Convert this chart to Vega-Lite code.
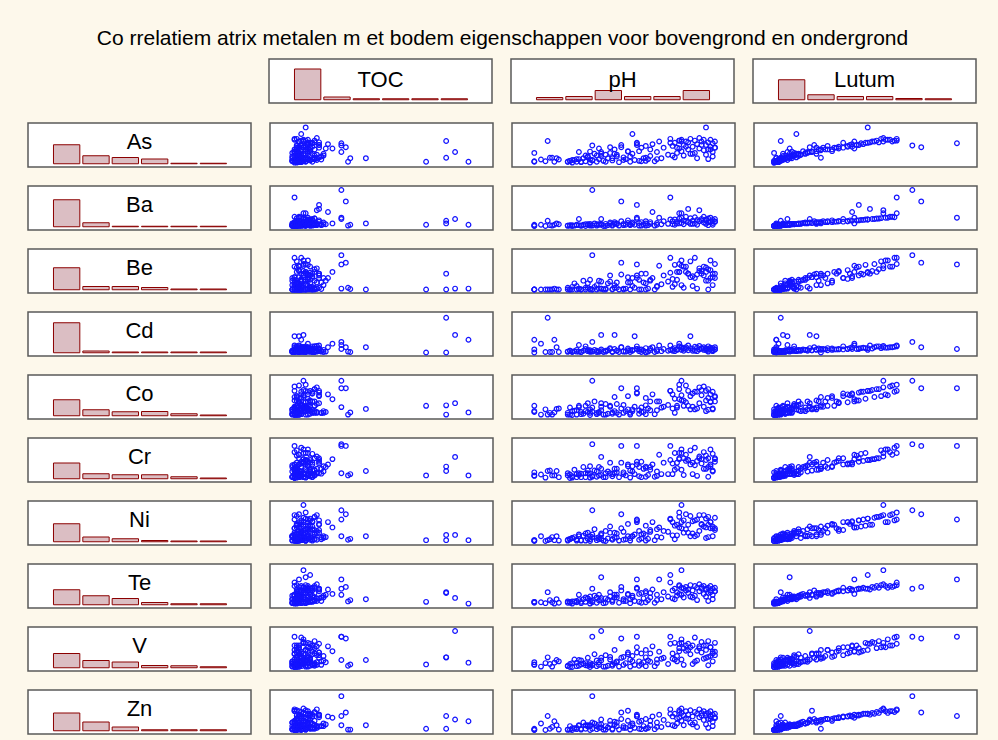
{
  "$schema": "https://vega.github.io/schema/vega-lite/v6.json",
  "background": "#FDF8EB",
  "padding": {"left": 27, "top": 28, "right": 21, "bottom": 4},
  "title": {"text": "Co rrelatiem atrix metalen m et bodem eigenschappen voor bovengrond en ondergrond", "font": "Liberation Sans", "fontSize": 21, "fontWeight": "normal", "color": "#000000", "anchor": "middle", "offset": 9},
  "config": {
    "view": {"stroke": "#5A5A5A", "strokeWidth": 1.5, "fill": "#FFFFFF"},
    "concat": {"spacing": 17},
    "facet": {"spacing": 17},
    "text": {"font": "Liberation Sans"}
  },
  "datasets": {
    "hist": [
      {"v":"As","lo":0,"hi":1,"n":76},{"v":"As","lo":1,"hi":2,"n":32},{"v":"As","lo":2,"hi":3,"n":25},{"v":"As","lo":3,"hi":4,"n":19},{"v":"As","lo":4,"hi":5,"n":2},{"v":"As","lo":5,"hi":6,"n":2},
      {"v":"Ba","lo":0,"hi":1,"n":108},{"v":"Ba","lo":1,"hi":2,"n":16},{"v":"Ba","lo":2,"hi":3,"n":2},{"v":"Ba","lo":3,"hi":4,"n":2},{"v":"Ba","lo":4,"hi":5,"n":2},{"v":"Ba","lo":5,"hi":6,"n":2},
      {"v":"Be","lo":0,"hi":1,"n":88},{"v":"Be","lo":1,"hi":2,"n":13},{"v":"Be","lo":2,"hi":3,"n":13},{"v":"Be","lo":3,"hi":4,"n":9},{"v":"Be","lo":4,"hi":5,"n":3},{"v":"Be","lo":5,"hi":6,"n":3},
      {"v":"Cd","lo":0,"hi":1,"n":120},{"v":"Cd","lo":1,"hi":2,"n":7},{"v":"Cd","lo":2,"hi":3,"n":3},{"v":"Cd","lo":3,"hi":4,"n":3},{"v":"Cd","lo":4,"hi":5,"n":3},{"v":"Cd","lo":5,"hi":6,"n":3},
      {"v":"Co","lo":0,"hi":1,"n":64},{"v":"Co","lo":1,"hi":2,"n":24},{"v":"Co","lo":2,"hi":3,"n":16},{"v":"Co","lo":3,"hi":4,"n":17},{"v":"Co","lo":4,"hi":5,"n":8},{"v":"Co","lo":5,"hi":6,"n":3},
      {"v":"Cr","lo":0,"hi":1,"n":63},{"v":"Cr","lo":1,"hi":2,"n":20},{"v":"Cr","lo":2,"hi":3,"n":16},{"v":"Cr","lo":3,"hi":4,"n":16},{"v":"Cr","lo":4,"hi":5,"n":8},{"v":"Cr","lo":5,"hi":6,"n":3},
      {"v":"Ni","lo":0,"hi":1,"n":72},{"v":"Ni","lo":1,"hi":2,"n":19},{"v":"Ni","lo":2,"hi":3,"n":12},{"v":"Ni","lo":3,"hi":4,"n":5},{"v":"Ni","lo":4,"hi":5,"n":3},{"v":"Ni","lo":5,"hi":6,"n":3},
      {"v":"Te","lo":0,"hi":1,"n":60},{"v":"Te","lo":1,"hi":2,"n":36},{"v":"Te","lo":2,"hi":3,"n":25},{"v":"Te","lo":3,"hi":4,"n":9},{"v":"Te","lo":4,"hi":5,"n":4},{"v":"Te","lo":5,"hi":6,"n":4},
      {"v":"V","lo":0,"hi":1,"n":57},{"v":"V","lo":1,"hi":2,"n":29},{"v":"V","lo":2,"hi":3,"n":23},{"v":"V","lo":3,"hi":4,"n":9},{"v":"V","lo":4,"hi":5,"n":8},{"v":"V","lo":5,"hi":6,"n":4},
      {"v":"Zn","lo":0,"hi":1,"n":71},{"v":"Zn","lo":1,"hi":2,"n":35},{"v":"Zn","lo":2,"hi":3,"n":15},{"v":"Zn","lo":3,"hi":4,"n":4},{"v":"Zn","lo":4,"hi":5,"n":4},{"v":"Zn","lo":5,"hi":6,"n":4},
      {"v":"TOC","lo":0,"hi":1,"n":123},{"v":"TOC","lo":1,"hi":2,"n":11},{"v":"TOC","lo":2,"hi":3,"n":4},{"v":"TOC","lo":3,"hi":4,"n":4},{"v":"TOC","lo":4,"hi":5,"n":4},{"v":"TOC","lo":5,"hi":6,"n":4},
      {"v":"pH","lo":0,"hi":1,"n":9},{"v":"pH","lo":1,"hi":2,"n":13},{"v":"pH","lo":2,"hi":3,"n":37},{"v":"pH","lo":3,"hi":4,"n":13},{"v":"pH","lo":4,"hi":5,"n":13},{"v":"pH","lo":5,"hi":6,"n":37},
      {"v":"Lutum","lo":0,"hi":1,"n":80},{"v":"Lutum","lo":1,"hi":2,"n":20},{"v":"Lutum","lo":2,"hi":3,"n":13},{"v":"Lutum","lo":3,"hi":4,"n":13},{"v":"Lutum","lo":4,"hi":5,"n":5},{"v":"Lutum","lo":5,"hi":6,"n":4}
    ],
    "samples": [
      {"TOC":14,"pH":10,"Lutum":10,"As":13,"Ba":10,"Be":8,"Cd":37,"Co":18,"Cr":14,"Ni":11,"Te":12,"V":20,"Zn":9},
      {"TOC":12,"pH":10,"Lutum":9,"As":32,"Ba":9,"Be":8,"Cd":15,"Co":16,"Cr":22,"Ni":9,"Te":14,"V":14,"Zn":10},
      {"TOC":17,"pH":13,"Lutum":11,"As":17,"Ba":12,"Be":8,"Cd":28,"Co":10,"Cr":17,"Ni":20,"Te":13,"V":10,"Zn":24},
      {"TOC":11,"pH":15,"Lutum":9,"As":13,"Ba":9,"Be":8,"Cd":9,"Co":22,"Cr":10,"Ni":9,"Te":11,"V":18,"Zn":9},
      {"TOC":20,"pH":17,"Lutum":12,"As":21,"Ba":11,"Be":8,"Cd":9,"Co":14,"Cr":26,"Ni":13,"Te":18,"V":16,"Zn":12},
      {"TOC":13,"pH":18,"Lutum":10,"As":21,"Ba":10,"Be":8,"Cd":9,"Co":10,"Cr":15,"Ni":18,"Te":13,"V":10,"Zn":16},
      {"TOC":16,"pH":21,"Lutum":11,"As":17,"Ba":13,"Be":8,"Cd":9,"Co":24,"Cr":11,"Ni":10,"Te":12,"V":22,"Zn":10},
      {"TOC":70,"pH":10,"Lutum":10,"As":12,"Ba":12,"Be":8,"Cd":8,"Co":30,"Cr":15,"Ni":11,"Te":14,"V":15,"Zn":12},
      {"TOC":79,"pH":16,"Lutum":12,"As":59,"Ba":21,"Be":8,"Cd":87,"Co":10,"Cr":25,"Ni":11,"Te":36,"V":31,"Zn":41},
      {"TOC":79,"pH":60,"Lutum":30,"As":21,"Ba":15,"Be":44,"Cd":8,"Co":31,"Cr":35,"Ni":23,"Te":34,"V":31,"Zn":12},
      {"TOC":83,"pH":40,"Lutum":25,"As":34,"Ba":25,"Be":10,"Cd":48,"Co":36,"Cr":57,"Ni":23,"Te":23,"V":91,"Zn":33},
      {"TOC":89,"pH":19,"Lutum":10,"As":12,"Ba":12,"Be":10,"Cd":37,"Co":15,"Cr":15,"Ni":11,"Te":10,"V":19,"Zn":29},
      {"TOC":28,"pH":75,"Lutum":45,"As":42,"Ba":15,"Be":48,"Cd":28,"Co":45,"Cr":52,"Ni":40,"Te":32,"V":45,"Zn":37},
      {"TOC":32,"pH":36,"Lutum":71,"As":49,"Ba":91,"Be":86,"Cd":32,"Co":87,"Cr":86,"Ni":79,"Te":44,"V":78,"Zn":86},
      {"TOC":34,"pH":49,"Lutum":75,"As":45,"Ba":65,"Be":69,"Cd":20,"Co":70,"Cr":82,"Ni":70,"Te":48,"V":74,"Zn":49},
      {"TOC":32,"pH":56,"Lutum":91,"As":54,"Ba":28,"Be":65,"Cd":16,"Co":70,"Cr":82,"Ni":58,"Te":65,"V":78,"Zn":41},
      {"TOC":32,"pH":30,"Lutum":15,"As":34,"Ba":25,"Be":10,"Cd":25,"Co":27,"Cr":20,"Ni":20,"Te":30,"V":25,"Zn":20},
      {"TOC":35,"pH":25,"Lutum":10,"As":12,"Ba":10,"Be":12,"Cd":10,"Co":10,"Cr":15,"Ni":12,"Te":15,"V":12,"Zn":10},
      {"TOC":36,"pH":45,"Lutum":12,"As":20,"Ba":12,"Be":9,"Cd":9,"Co":15,"Cr":18,"Ni":14,"Te":18,"V":15,"Zn":10},
      {"TOC":43,"pH":20,"Lutum":10,"As":20,"Ba":15,"Be":8,"Cd":20,"Co":23,"Cr":25,"Ni":20,"Te":20,"V":25,"Zn":20},
      {"TOC":12,"pH":25,"Lutum":10,"As":12,"Ba":10,"Be":8,"Cd":10,"Co":14,"Cr":20,"Ni":10,"Te":12,"V":11,"Zn":10},
      {"TOC":15,"pH":26,"Lutum":11,"As":14,"Ba":11,"Be":8,"Cd":12,"Co":26,"Cr":17,"Ni":13,"Te":14,"V":16,"Zn":18},
      {"TOC":11,"pH":27,"Lutum":9,"As":10,"Ba":9,"Be":8,"Cd":9,"Co":9,"Cr":10,"Ni":16,"Te":10,"V":9,"Zn":9},
      {"TOC":18,"pH":28,"Lutum":12,"As":16,"Ba":10,"Be":22,"Cd":11,"Co":19,"Cr":28,"Ni":18,"Te":15,"V":26,"Zn":13},
      {"TOC":13,"pH":29,"Lutum":10,"As":12,"Ba":12,"Be":8,"Cd":14,"Co":10,"Cr":11,"Ni":10,"Te":13,"V":11,"Zn":11},
      {"TOC":20,"pH":30,"Lutum":13,"As":18,"Ba":11,"Be":9,"Cd":10,"Co":30,"Cr":16,"Ni":24,"Te":18,"V":12,"Zn":19},
      {"TOC":14,"pH":31,"Lutum":11,"As":11,"Ba":10,"Be":8,"Cd":9,"Co":11,"Cr":19,"Ni":11,"Te":11,"V":24,"Zn":10},
      {"TOC":10,"pH":32,"Lutum":14,"As":20,"Ba":12,"Be":28,"Cd":12,"Co":12,"Cr":34,"Ni":21,"Te":20,"V":17,"Zn":26},
      {"TOC":16,"pH":33,"Lutum":10,"As":13,"Ba":9,"Be":8,"Cd":16,"Co":18,"Cr":11,"Ni":10,"Te":14,"V":13,"Zn":12},
      {"TOC":22,"pH":34,"Lutum":15,"As":22,"Ba":13,"Be":12,"Cd":11,"Co":36,"Cr":20,"Ni":28,"Te":22,"V":30,"Zn":17},
      {"TOC":12,"pH":35,"Lutum":9,"As":10,"Ba":10,"Be":8,"Cd":10,"Co":9,"Cr":10,"Ni":9,"Te":10,"V":9,"Zn":9},
      {"TOC":17,"pH":35,"Lutum":17,"As":35,"Ba":14,"Be":30,"Cd":13,"Co":22,"Cr":36,"Ni":20,"Te":26,"V":18,"Zn":20},
      {"TOC":11,"pH":36,"Lutum":12,"As":16,"Ba":11,"Be":8,"Cd":10,"Co":26,"Cr":14,"Ni":24,"Te":16,"V":13,"Zn":26},
      {"TOC":19,"pH":37,"Lutum":20,"As":30,"Ba":15,"Be":14,"Cd":14,"Co":40,"Cr":26,"Ni":36,"Te":28,"V":38,"Zn":24},
      {"TOC":14,"pH":38,"Lutum":11,"As":12,"Ba":10,"Be":8,"Cd":12,"Co":11,"Cr":12,"Ni":11,"Te":12,"V":11,"Zn":11},
      {"TOC":25,"pH":39,"Lutum":16,"As":42,"Ba":13,"Be":28,"Cd":10,"Co":16,"Cr":34,"Ni":18,"Te":30,"V":20,"Zn":22},
      {"TOC":13,"pH":40,"Lutum":13,"As":25,"Ba":12,"Be":10,"Cd":11,"Co":28,"Cr":16,"Ni":26,"Te":18,"V":30,"Zn":15},
      {"TOC":16,"pH":40,"Lutum":16,"As":30,"Ba":14,"Be":26,"Cd":15,"Co":20,"Cr":30,"Ni":14,"Te":70,"V":24,"Zn":22},
      {"TOC":10,"pH":41,"Lutum":10,"As":14,"Ba":9,"Be":8,"Cd":9,"Co":10,"Cr":11,"Ni":10,"Te":11,"V":10,"Zn":10},
      {"TOC":21,"pH":42,"Lutum":18,"As":28,"Ba":14,"Be":10,"Cd":12,"Co":34,"Cr":20,"Ni":32,"Te":22,"V":36,"Zn":18},
      {"TOC":12,"pH":43,"Lutum":14,"As":20,"Ba":11,"Be":22,"Cd":13,"Co":12,"Cr":24,"Ni":15,"Te":19,"V":12,"Zn":15},
      {"TOC":15,"pH":44,"Lutum":25,"As":45,"Ba":17,"Be":40,"Cd":18,"Co":28,"Cr":44,"Ni":42,"Te":36,"V":26,"Zn":30},
      {"TOC":18,"pH":45,"Lutum":12,"As":15,"Ba":10,"Be":8,"Cd":10,"Co":12,"Cr":13,"Ni":12,"Te":14,"V":12,"Zn":12},
      {"TOC":11,"pH":46,"Lutum":30,"As":40,"Ba":18,"Be":18,"Cd":16,"Co":50,"Cr":30,"Ni":28,"Te":30,"V":48,"Zn":28},
      {"TOC":23,"pH":47,"Lutum":16,"As":24,"Ba":13,"Be":24,"Cd":12,"Co":14,"Cr":30,"Ni":17,"Te":24,"V":22,"Zn":18},
      {"TOC":13,"pH":48,"Lutum":11,"As":11,"Ba":10,"Be":8,"Cd":9,"Co":10,"Cr":11,"Ni":10,"Te":12,"V":10,"Zn":10},
      {"TOC":17,"pH":49,"Lutum":27,"As":50,"Ba":20,"Be":42,"Cd":20,"Co":24,"Cr":44,"Ni":38,"Te":40,"V":30,"Zn":34},
      {"TOC":14,"pH":50,"Lutum":19,"As":22,"Ba":14,"Be":8,"Cd":11,"Co":32,"Cr":18,"Ni":30,"Te":20,"V":32,"Zn":18},
      {"TOC":20,"pH":51,"Lutum":13,"As":18,"Ba":12,"Be":10,"Cd":10,"Co":18,"Cr":15,"Ni":13,"Te":16,"V":18,"Zn":14},
      {"TOC":12,"pH":52,"Lutum":35,"As":36,"Ba":22,"Be":24,"Cd":17,"Co":52,"Cr":36,"Ni":48,"Te":32,"V":42,"Zn":30},
      {"TOC":16,"pH":53,"Lutum":10,"As":12,"Ba":11,"Be":8,"Cd":9,"Co":10,"Cr":10,"Ni":10,"Te":11,"V":10,"Zn":10},
      {"TOC":24,"pH":54,"Lutum":23,"As":30,"Ba":17,"Be":34,"Cd":14,"Co":18,"Cr":36,"Ni":20,"Te":28,"V":34,"Zn":24},
      {"TOC":11,"pH":55,"Lutum":15,"As":16,"Ba":12,"Be":12,"Cd":45,"Co":28,"Cr":18,"Ni":24,"Te":16,"V":14,"Zn":14},
      {"TOC":19,"pH":56,"Lutum":40,"As":55,"Ba":25,"Be":34,"Cd":22,"Co":58,"Cr":40,"Ni":52,"Te":46,"V":54,"Zn":40},
      {"TOC":13,"pH":57,"Lutum":12,"As":14,"Ba":10,"Be":8,"Cd":11,"Co":12,"Cr":13,"Ni":12,"Te":14,"V":12,"Zn":12},
      {"TOC":15,"pH":58,"Lutum":28,"As":44,"Ba":18,"Be":44,"Cd":15,"Co":26,"Cr":46,"Ni":24,"Te":34,"V":40,"Zn":30},
      {"TOC":21,"pH":59,"Lutum":17,"As":20,"Ba":13,"Be":24,"Cd":12,"Co":16,"Cr":30,"Ni":26,"Te":22,"V":20,"Zn":18},
      {"TOC":12,"pH":60,"Lutum":33,"As":48,"Ba":20,"Be":22,"Cd":18,"Co":48,"Cr":32,"Ni":44,"Te":38,"V":48,"Zn":34},
      {"TOC":17,"pH":61,"Lutum":14,"As":18,"Ba":11,"Be":10,"Cd":10,"Co":24,"Cr":16,"Ni":14,"Te":18,"V":24,"Zn":14},
      {"TOC":14,"pH":62,"Lutum":20,"As":25,"Ba":14,"Be":30,"Cd":13,"Co":20,"Cr":34,"Ni":30,"Te":24,"V":21,"Zn":20},
      {"TOC":26,"pH":63,"Lutum":44,"As":52,"Ba":41,"Be":34,"Cd":20,"Co":56,"Cr":40,"Ni":52,"Te":42,"V":56,"Zn":40},
      {"TOC":10,"pH":64,"Lutum":11,"As":13,"Ba":10,"Be":8,"Cd":9,"Co":11,"Cr":12,"Ni":11,"Te":12,"V":11,"Zn":11},
      {"TOC":18,"pH":65,"Lutum":24,"As":34,"Ba":16,"Be":14,"Cd":14,"Co":40,"Cr":24,"Ni":36,"Te":30,"V":26,"Zn":26},
      {"TOC":13,"pH":66,"Lutum":45,"As":58,"Ba":28,"Be":62,"Cd":24,"Co":40,"Cr":62,"Ni":40,"Te":65,"V":44,"Zn":44},
      {"TOC":16,"pH":67,"Lutum":16,"As":20,"Ba":13,"Be":20,"Cd":11,"Co":26,"Cr":18,"Ni":17,"Te":20,"V":28,"Zn":16},
      {"TOC":12,"pH":33,"Lutum":18,"As":26,"Ba":13,"Be":12,"Cd":22,"Co":30,"Cr":20,"Ni":26,"Te":24,"V":18,"Zn":20},
      {"TOC":22,"pH":56,"Lutum":47,"As":50,"Ba":57,"Be":40,"Cd":16,"Co":60,"Cr":46,"Ni":56,"Te":44,"V":42,"Zn":44},
      {"TOC":15,"pH":46,"Lutum":13,"As":30,"Ba":15,"Be":12,"Cd":48,"Co":18,"Cr":20,"Ni":17,"Te":24,"V":18,"Zn":22},
      {"TOC":19,"pH":39,"Lutum":13,"As":18,"Ba":12,"Be":10,"Cd":10,"Co":14,"Cr":15,"Ni":13,"Te":17,"V":14,"Zn":14},
      {"TOC":11,"pH":52,"Lutum":26,"As":35,"Ba":16,"Be":36,"Cd":13,"Co":22,"Cr":40,"Ni":20,"Te":30,"V":38,"Zn":53},
      {"TOC":14,"pH":54,"Lutum":19,"As":75,"Ba":14,"Be":16,"Cd":12,"Co":22,"Cr":24,"Ni":20,"Te":24,"V":22,"Zn":20},
      {"TOC":14,"pH":72,"Lutum":42,"As":48,"Ba":20,"Be":32,"Cd":16,"Co":56,"Cr":42,"Ni":52,"Te":40,"V":40,"Zn":40},
      {"TOC":17,"pH":73,"Lutum":50,"As":55,"Ba":24,"Be":64,"Cd":18,"Co":46,"Cr":66,"Ni":44,"Te":44,"V":64,"Zn":46},
      {"TOC":12,"pH":74,"Lutum":36,"As":44,"Ba":19,"Be":48,"Cd":15,"Co":30,"Cr":44,"Ni":46,"Te":36,"V":34,"Zn":36},
      {"TOC":20,"pH":75,"Lutum":55,"As":60,"Ba":26,"Be":48,"Cd":22,"Co":68,"Cr":54,"Ni":64,"Te":50,"V":52,"Zn":50},
      {"TOC":15,"pH":76,"Lutum":60,"As":62,"Ba":28,"Be":74,"Cd":19,"Co":54,"Cr":74,"Ni":52,"Te":46,"V":72,"Zn":48},
      {"TOC":11,"pH":76,"Lutum":28,"As":36,"Ba":16,"Be":18,"Cd":14,"Co":42,"Cr":28,"Ni":38,"Te":30,"V":26,"Zn":30},
      {"TOC":18,"pH":77,"Lutum":47,"As":50,"Ba":22,"Be":60,"Cd":17,"Co":42,"Cr":54,"Ni":56,"Te":44,"V":52,"Zn":42},
      {"TOC":13,"pH":78,"Lutum":62,"As":58,"Ba":30,"Be":60,"Cd":20,"Co":76,"Cr":62,"Ni":70,"Te":48,"V":58,"Zn":52},
      {"TOC":22,"pH":79,"Lutum":52,"As":56,"Ba":48,"Be":44,"Cd":24,"Co":64,"Cr":50,"Ni":46,"Te":42,"V":62,"Zn":44},
      {"TOC":16,"pH":79,"Lutum":33,"As":40,"Ba":18,"Be":44,"Cd":13,"Co":30,"Cr":50,"Ni":28,"Te":34,"V":48,"Zn":34},
      {"TOC":12,"pH":80,"Lutum":57,"As":64,"Ba":27,"Be":72,"Cd":18,"Co":52,"Cr":72,"Ni":66,"Te":52,"V":54,"Zn":54},
      {"TOC":19,"pH":81,"Lutum":44,"As":46,"Ba":21,"Be":38,"Cd":16,"Co":58,"Cr":44,"Ni":54,"Te":40,"V":58,"Zn":40},
      {"TOC":14,"pH":82,"Lutum":63,"As":60,"Ba":29,"Be":80,"Cd":21,"Co":62,"Cr":78,"Ni":56,"Te":50,"V":76,"Zn":50},
      {"TOC":10,"pH":82,"Lutum":24,"As":32,"Ba":15,"Be":34,"Cd":12,"Co":22,"Cr":38,"Ni":20,"Te":28,"V":21,"Zn":26},
      {"TOC":17,"pH":83,"Lutum":49,"As":52,"Ba":23,"Be":42,"Cd":19,"Co":62,"Cr":48,"Ni":58,"Te":46,"V":46,"Zn":46},
      {"TOC":21,"pH":84,"Lutum":58,"As":66,"Ba":45,"Be":56,"Cd":23,"Co":72,"Cr":58,"Ni":68,"Te":54,"V":56,"Zn":56},
      {"TOC":13,"pH":84,"Lutum":38,"As":42,"Ba":20,"Be":50,"Cd":15,"Co":36,"Cr":54,"Ni":32,"Te":38,"V":52,"Zn":38},
      {"TOC":15,"pH":85,"Lutum":53,"As":58,"Ba":25,"Be":50,"Cd":17,"Co":66,"Cr":52,"Ni":46,"Te":48,"V":66,"Zn":48},
      {"TOC":11,"pH":86,"Lutum":61,"As":62,"Ba":30,"Be":60,"Cd":20,"Co":74,"Cr":68,"Ni":68,"Te":50,"V":58,"Zn":52},
      {"TOC":18,"pH":86,"Lutum":30,"As":38,"Ba":17,"Be":40,"Cd":14,"Co":28,"Cr":30,"Ni":42,"Te":32,"V":28,"Zn":32},
      {"TOC":16,"pH":87,"Lutum":51,"As":90,"Ba":24,"Be":48,"Cd":18,"Co":64,"Cr":50,"Ni":60,"Te":44,"V":48,"Zn":46},
      {"TOC":12,"pH":87,"Lutum":46,"As":50,"Ba":22,"Be":58,"Cd":16,"Co":42,"Cr":60,"Ni":40,"Te":42,"V":58,"Zn":42},
      {"TOC":20,"pH":88,"Lutum":56,"As":56,"Ba":26,"Be":54,"Cd":22,"Co":68,"Cr":54,"Ni":64,"Te":46,"V":68,"Zn":48},
      {"TOC":14,"pH":88,"Lutum":35,"As":40,"Ba":18,"Be":28,"Cd":14,"Co":48,"Cr":34,"Ni":46,"Te":34,"V":32,"Zn":34},
      {"TOC":17,"pH":89,"Lutum":59,"As":62,"Ba":28,"Be":74,"Cd":19,"Co":56,"Cr":74,"Ni":52,"Te":50,"V":54,"Zn":52},
      {"TOC":13,"pH":89,"Lutum":42,"As":46,"Ba":20,"Be":52,"Cd":16,"Co":38,"Cr":40,"Ni":52,"Te":40,"V":54,"Zn":40},
      {"TOC":19,"pH":90,"Lutum":48,"As":54,"Ba":23,"Be":44,"Cd":18,"Co":62,"Cr":64,"Ni":42,"Te":44,"V":44,"Zn":44},
      {"TOC":11,"pH":90,"Lutum":26,"As":34,"Ba":16,"Be":36,"Cd":13,"Co":24,"Cr":26,"Ni":38,"Te":30,"V":40,"Zn":28},
      {"TOC":15,"pH":91,"Lutum":54,"As":58,"Ba":25,"Be":66,"Cd":20,"Co":50,"Cr":52,"Ni":62,"Te":46,"V":64,"Zn":46},
      {"TOC":22,"pH":91,"Lutum":40,"As":44,"Ba":19,"Be":34,"Cd":15,"Co":52,"Cr":54,"Ni":34,"Te":38,"V":36,"Zn":38},
      {"TOC":14,"pH":70,"Lutum":20,"As":28,"Ba":14,"Be":26,"Cd":12,"Co":32,"Cr":18,"Ni":30,"Te":26,"V":16,"Zn":22},
      {"TOC":18,"pH":71,"Lutum":51,"As":55,"Ba":24,"Be":46,"Cd":14,"Co":64,"Cr":50,"Ni":60,"Te":75,"V":62,"Zn":46},
      {"TOC":12,"pH":73,"Lutum":15,"As":22,"Ba":12,"Be":20,"Cd":11,"Co":14,"Cr":28,"Ni":13,"Te":20,"V":26,"Zn":18},
      {"TOC":16,"pH":75,"Lutum":64,"As":60,"Ba":38,"Be":66,"Cd":22,"Co":78,"Cr":66,"Ni":74,"Te":52,"V":62,"Zn":54},
      {"TOC":20,"pH":77,"Lutum":18,"As":26,"Ba":13,"Be":12,"Cd":12,"Co":30,"Cr":16,"Ni":28,"Te":24,"V":14,"Zn":20},
      {"TOC":13,"pH":80,"Lutum":28,"As":30,"Ba":14,"Be":36,"Cd":45,"Co":22,"Cr":40,"Ni":20,"Te":26,"V":38,"Zn":26},
      {"TOC":17,"pH":83,"Lutum":14,"As":20,"Ba":12,"Be":10,"Cd":11,"Co":24,"Cr":14,"Ni":23,"Te":18,"V":24,"Zn":16},
      {"TOC":11,"pH":71,"Lutum":64,"As":64,"Ba":74,"Be":80,"Cd":24,"Co":64,"Cr":82,"Ni":58,"Te":58,"V":78,"Zn":56},
      {"TOC":19,"pH":88,"Lutum":12,"As":18,"Ba":11,"Be":8,"Cd":10,"Co":21,"Cr":12,"Ni":18,"Te":16,"V":13,"Zn":14},
      {"TOC":15,"pH":76,"Lutum":58,"As":58,"Ba":38,"Be":62,"Cd":20,"Co":87,"Cr":66,"Ni":91,"Te":86,"V":64,"Zn":58},
      {"TOC":11,"pH":26,"Lutum":9,"As":14,"Ba":10,"Be":8,"Cd":12,"Co":10,"Cr":9,"Ni":14,"Te":12,"V":9,"Zn":10},
      {"TOC":15,"pH":29,"Lutum":12,"As":18,"Ba":11,"Be":16,"Cd":10,"Co":20,"Cr":18,"Ni":13,"Te":16,"V":19,"Zn":14},
      {"TOC":19,"pH":31,"Lutum":10,"As":12,"Ba":10,"Be":8,"Cd":9,"Co":16,"Cr":11,"Ni":10,"Te":14,"V":15,"Zn":12},
      {"TOC":13,"pH":34,"Lutum":16,"As":24,"Ba":12,"Be":22,"Cd":14,"Co":16,"Cr":26,"Ni":14,"Te":22,"V":12,"Zn":20},
      {"TOC":10,"pH":36,"Lutum":11,"As":15,"Ba":10,"Be":8,"Cd":11,"Co":17,"Cr":12,"Ni":18,"Te":13,"V":16,"Zn":12},
      {"TOC":24,"pH":38,"Lutum":14,"As":26,"Ba":13,"Be":18,"Cd":9,"Co":14,"Cr":24,"Ni":16,"Te":24,"V":24,"Zn":18},
      {"TOC":12,"pH":42,"Lutum":10,"As":12,"Ba":9,"Be":8,"Cd":10,"Co":10,"Cr":11,"Ni":9,"Te":12,"V":10,"Zn":10},
      {"TOC":17,"pH":44,"Lutum":18,"As":32,"Ba":14,"Be":26,"Cd":16,"Co":30,"Cr":20,"Ni":28,"Te":26,"V":32,"Zn":22},
      {"TOC":14,"pH":47,"Lutum":21,"As":28,"Ba":15,"Be":12,"Cd":12,"Co":34,"Cr":22,"Ni":26,"Te":30,"V":20,"Zn":26},
      {"TOC":21,"pH":50,"Lutum":12,"As":16,"Ba":11,"Be":10,"Cd":10,"Co":14,"Cr":22,"Ni":12,"Te":16,"V":14,"Zn":14},
      {"TOC":11,"pH":53,"Lutum":17,"As":24,"Ba":13,"Be":24,"Cd":13,"Co":14,"Cr":26,"Ni":16,"Te":20,"V":26,"Zn":18},
      {"TOC":16,"pH":57,"Lutum":22,"As":36,"Ba":16,"Be":30,"Cd":15,"Co":20,"Cr":34,"Ni":32,"Te":32,"V":22,"Zn":28},
      {"TOC":13,"pH":60,"Lutum":10,"As":14,"Ba":10,"Be":8,"Cd":9,"Co":11,"Cr":12,"Ni":10,"Te":13,"V":11,"Zn":12},
      {"TOC":20,"pH":62,"Lutum":29,"As":40,"Ba":18,"Be":28,"Cd":17,"Co":40,"Cr":28,"Ni":34,"Te":34,"V":40,"Zn":30},
      {"TOC":12,"pH":65,"Lutum":13,"As":18,"Ba":12,"Be":16,"Cd":11,"Co":20,"Cr":14,"Ni":19,"Te":18,"V":18,"Zn":16},
      {"TOC":18,"pH":68,"Lutum":31,"As":44,"Ba":20,"Be":40,"Cd":16,"Co":28,"Cr":44,"Ni":32,"Te":36,"V":30,"Zn":32},
      {"TOC":14,"pH":72,"Lutum":17,"As":26,"Ba":13,"Be":14,"Cd":12,"Co":24,"Cr":18,"Ni":22,"Te":22,"V":28,"Zn":20},
      {"TOC":11,"pH":74,"Lutum":23,"As":32,"Ba":15,"Be":30,"Cd":14,"Co":26,"Cr":32,"Ni":22,"Te":28,"V":22,"Zn":24},
      {"TOC":16,"pH":78,"Lutum":38,"As":46,"Ba":20,"Be":48,"Cd":16,"Co":38,"Cr":48,"Ni":36,"Te":40,"V":46,"Zn":36},
      {"TOC":13,"pH":81,"Lutum":19,"As":30,"Ba":14,"Be":16,"Cd":12,"Co":28,"Cr":18,"Ni":26,"Te":24,"V":16,"Zn":22},
      {"TOC":22,"pH":85,"Lutum":43,"As":50,"Ba":22,"Be":44,"Cd":18,"Co":54,"Cr":42,"Ni":48,"Te":44,"V":42,"Zn":42},
      {"TOC":12,"pH":87,"Lutum":21,"As":28,"Ba":14,"Be":28,"Cd":13,"Co":18,"Cr":30,"Ni":16,"Te":26,"V":30,"Zn":22},
      {"TOC":17,"pH":89,"Lutum":32,"As":40,"Ba":18,"Be":34,"Cd":15,"Co":40,"Cr":36,"Ni":38,"Te":36,"V":34,"Zn":34},
      {"TOC":10,"pH":90,"Lutum":16,"As":24,"Ba":12,"Be":18,"Cd":11,"Co":22,"Cr":24,"Ni":20,"Te":20,"V":22,"Zn":18},
      {"TOC":14,"pH":91,"Lutum":37,"As":44,"Ba":19,"Be":44,"Cd":15,"Co":40,"Cr":46,"Ni":38,"Te":38,"V":44,"Zn":36},
      {"TOC":18,"pH":27,"Lutum":13,"As":16,"Ba":11,"Be":14,"Cd":10,"Co":18,"Cr":13,"Ni":16,"Te":15,"V":18,"Zn":13},
      {"TOC":15,"pH":58,"Lutum":11,"As":13,"Ba":10,"Be":8,"Cd":9,"Co":16,"Cr":11,"Ni":15,"Te":12,"V":16,"Zn":11},
      {"TOC":23,"pH":35,"Lutum":12,"As":17,"Ba":11,"Be":9,"Cd":10,"Co":14,"Cr":19,"Ni":13,"Te":16,"V":14,"Zn":18}
    ]
  },
  "vconcat": [
    {
      "hconcat": [
        {
          "width": 223, "height": 44,
          "view": {"stroke": null, "fill": null},
          "data": {"values": [{"t": ""}]},
          "mark": {"type": "text"},
          "encoding": {"text": {"field": "t"}}
        },
        {
          "data": {"name": "hist"},
          "transform": [{"filter": {"field": "v", "oneOf": ["TOC", "pH", "Lutum"]}}],
          "facet": {"column": {"field": "v", "sort": ["TOC", "pH", "Lutum"], "header": null}},
          "spacing": 17,
          "spec": {
            "width": 223, "height": 44,
            "layer": [
              {
                "mark": {"type": "bar", "fill": "#DBBEC3", "stroke": "#8B0000", "strokeWidth": 1, "binSpacing": 3},
                "encoding": {
                  "x": {"field": "lo", "bin": "binned", "type": "quantitative", "scale": {"domain": [-0.8, 6.8], "nice": false, "zero": false}, "axis": null},
                  "x2": {"field": "hi"},
                  "y": {"field": "n", "type": "quantitative", "scale": {"domain": [-13, 163], "nice": false, "zero": false}, "axis": null},
                  "y2": {"datum": 0}
                }
              },
              {
                "transform": [{"filter": "datum.lo == 0"}],
                "mark": {"type": "text", "fontSize": 22, "font": "Liberation Sans", "color": "#000000", "align": "center", "baseline": "alphabetic"},
                "encoding": {
                  "x": {"datum": 3, "type": "quantitative"},
                  "y": {"datum": 50, "type": "quantitative"},
                  "text": {"field": "v"}
                }
              }
            ]
          }
        }
      ]
    },
    {
      "hconcat": [
        {
          "data": {"name": "hist"},
          "transform": [{"filter": {"field": "v", "oneOf": ["As", "Ba", "Be", "Cd", "Co", "Cr", "Ni", "Te", "V", "Zn"]}}],
          "facet": {"row": {"field": "v", "sort": ["As", "Ba", "Be", "Cd", "Co", "Cr", "Ni", "Te", "V", "Zn"], "header": null}},
          "spacing": 17,
          "spec": {
            "width": 223, "height": 44,
            "layer": [
              {
                "mark": {"type": "bar", "fill": "#DBBEC3", "stroke": "#8B0000", "strokeWidth": 1, "binSpacing": 3},
                "encoding": {
                  "x": {"field": "lo", "bin": "binned", "type": "quantitative", "scale": {"domain": [-0.8, 6.8], "nice": false, "zero": false}, "axis": null},
                  "x2": {"field": "hi"},
                  "y": {"field": "n", "type": "quantitative", "scale": {"domain": [-13, 163], "nice": false, "zero": false}, "axis": null},
                  "y2": {"datum": 0}
                }
              },
              {
                "transform": [{"filter": "datum.lo == 0"}],
                "mark": {"type": "text", "fontSize": 22, "font": "Liberation Sans", "color": "#000000", "align": "center", "baseline": "alphabetic"},
                "encoding": {
                  "x": {"datum": 3, "type": "quantitative"},
                  "y": {"datum": 59, "type": "quantitative"},
                  "text": {"field": "v"}
                }
              }
            ]
          }
        },
        {
          "data": {"name": "samples"},
          "transform": [
            {"fold": ["As", "Ba", "Be", "Cd", "Co", "Cr", "Ni", "Te", "V", "Zn"], "as": ["m", "yv"]},
            {"fold": ["TOC", "pH", "Lutum"], "as": ["p", "xv"]}
          ],
          "facet": {
            "row": {"field": "m", "sort": ["As", "Ba", "Be", "Cd", "Co", "Cr", "Ni", "Te", "V", "Zn"], "header": null},
            "column": {"field": "p", "sort": ["TOC", "pH", "Lutum"], "header": null}
          },
          "spacing": {"row": 15, "column": 17},
          "spec": {
            "width": 223, "height": 44,
            "mark": {"type": "point", "shape": "circle", "filled": false, "stroke": "#1414FF", "strokeWidth": 1.2, "size": 22, "opacity": 1},
            "encoding": {
              "x": {"field": "xv", "type": "quantitative", "scale": {"domain": [0, 100], "nice": false, "zero": false}, "axis": null},
              "y": {"field": "yv", "type": "quantitative", "scale": {"domain": [0, 100], "nice": false, "zero": false}, "axis": null}
            }
          }
        }
      ]
    }
  ]
}
